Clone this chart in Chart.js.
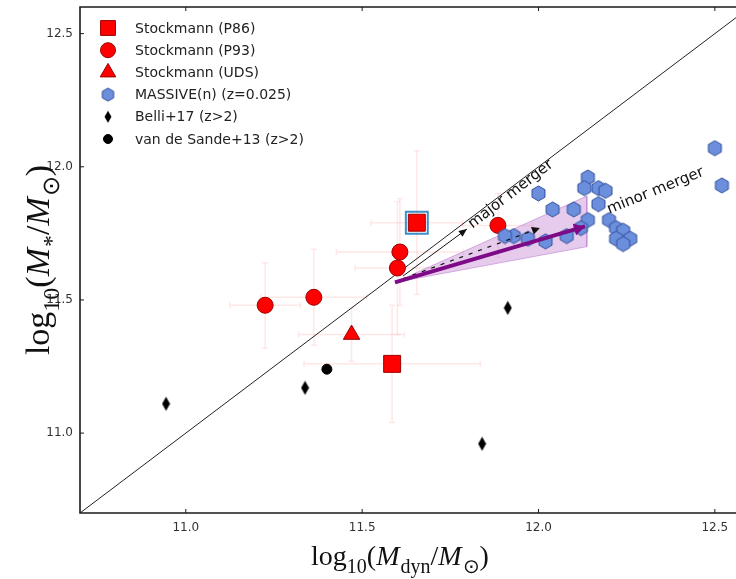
<!DOCTYPE html>
<html>
<head>
<meta charset="utf-8">
<script src="https://cdn.jsdelivr.net/npm/chart.js@4.4.1/dist/chart.umd.min.js"></script>
<style>
  html, body { margin: 0; padding: 0; background: #fff; }
  #wrap { width: 736px; height: 579px; position: relative; }
</style>
</head>
<body>
<div id="wrap"><canvas id="massChart" width="736" height="579"></canvas></div>
<script>
'use strict';

// ============================================================
// DATA  (all values are log10 masses in solar units)
// ============================================================
const dynLimits  = [10.7, 12.56];
const starLimits = [10.7, 12.6];
const tickValues = [11.0, 11.5, 12.0, 12.5];

const oneToOneDyn  = [10.7, 12.6];
const oneToOneStar = [10.7, 12.6];

const p86Dyn      = [11.585, 11.655];
const p86Star     = [11.26, 11.79];
const p86DynErr   = [0.25, 0.13];
const p86StarErr  = [0.22, 0.27];
const flaggedDyn  = [11.655];
const flaggedStar = [11.79];

const p93Dyn     = [11.225, 11.363, 11.60, 11.607, 11.885];
const p93Star    = [11.48, 11.51, 11.62, 11.68, 11.78];
const p93DynErr  = [0.10, 0.15, 0.12, 0.18, 0.10];
const p93StarErr = [0.16, 0.18, 0.25, 0.20, 0.12];

const udsDyn     = [11.47];
const udsStar    = [11.37];
const udsDynErr  = [0.15];
const udsStarErr = [0.10];

const massiveDyn  = [12.50, 12.52, 12.14, 12.13, 12.17, 12.19, 12.00, 12.17, 12.10, 12.04,
                     12.14, 12.20, 12.22, 12.24, 12.22, 12.26, 12.24, 12.12, 12.08, 12.02,
                     11.97, 11.93, 11.905];
const massiveStar = [12.07, 11.93, 11.96, 11.92, 11.92, 11.91, 11.90, 11.86, 11.84, 11.84,
                     11.80, 11.80, 11.77, 11.76, 11.73, 11.73, 11.71, 11.77, 11.74, 11.72,
                     11.73, 11.74, 11.74];

const belliDyn  = [10.944, 11.338, 11.84, 11.913];
const belliStar = [11.11, 11.17, 10.96, 11.47];

const vdsDyn  = [11.40];
const vdsStar = [11.24];

// growth tracks
const wedgeDyn   = [11.593, 12.137, 12.137, 11.593];
const wedgeStar  = [11.566, 11.89, 11.70, 11.566];
const trackDyn   = [11.593, 12.132];
const trackStar  = [11.566, 11.776];
const minorDyn   = [11.616, 12.004];
const minorStar  = [11.58, 11.77];
const majorDyn   = [11.616, 11.797];
const majorStar  = [11.59, 11.766];

const pts = (xs, ys) => xs.map((x, i) => ({ x, y: ys[i] }));

// ============================================================
// CUSTOM MARKERS (hexagon, thin diamond)
// ============================================================
function hexMarker(size, fill, edge) {
  const c = document.createElement('canvas');
  c.width = size; c.height = size;
  const g = c.getContext('2d');
  const r = size / 2 - 1, cx = size / 2, cy = size / 2;
  g.beginPath();
  for (let k = 0; k < 6; k++) {
    const a = -Math.PI / 2 + k * Math.PI / 3;
    g[k ? 'lineTo' : 'moveTo'](cx + r * Math.cos(a), cy + r * Math.sin(a));
  }
  g.closePath();
  g.fillStyle = fill; g.fill();
  g.lineWidth = 1; g.strokeStyle = edge; g.stroke();
  return c;
}

function diamondMarker(w, h) {
  const c = document.createElement('canvas');
  c.width = w; c.height = h;
  const g = c.getContext('2d');
  g.beginPath();
  g.moveTo(w / 2, 0.5); g.lineTo(w - 0.5, h / 2); g.lineTo(w / 2, h - 0.5); g.lineTo(0.5, h / 2);
  g.closePath();
  g.fillStyle = '#000'; g.fill();
  return c;
}

const hexBig   = hexMarker(17, '#6b8fdc', '#34509c');
const hexSmall = hexMarker(15, '#6b8fdc', '#34509c');
const diaBig   = diamondMarker(9, 15);
const diaSmall = diamondMarker(8, 13);

// ============================================================
// PLUGINS
// ============================================================
const errorBarPlugin = {
  id: 'errorBars',
  beforeDatasetsDraw(chart) {
    const { ctx, scales: { x, y } } = chart;
    ctx.save();
    ctx.strokeStyle = 'rgba(255,40,40,0.11)';
    ctx.lineWidth = 1.5;
    chart.data.datasets.forEach(ds => {
      if (!ds.errorBars) return;
      ds.data.forEach((p, i) => {
        const ex = ds.errorBars.x[i], ey = ds.errorBars.y[i];
        const px = x.getPixelForValue(p.x), py = y.getPixelForValue(p.y);
        const x0 = x.getPixelForValue(p.x - ex), x1 = x.getPixelForValue(p.x + ex);
        const y0 = y.getPixelForValue(p.y - ey), y1 = y.getPixelForValue(p.y + ey);
        ctx.beginPath();
        ctx.moveTo(x0, py); ctx.lineTo(x1, py);
        ctx.moveTo(px, y0); ctx.lineTo(px, y1);
        ctx.moveTo(x0, py - 3); ctx.lineTo(x0, py + 3);
        ctx.moveTo(x1, py - 3); ctx.lineTo(x1, py + 3);
        ctx.moveTo(px - 3, y0); ctx.lineTo(px + 3, y0);
        ctx.moveTo(px - 3, y1); ctx.lineTo(px + 3, y1);
        ctx.stroke();
      });
    });
    ctx.restore();
  }
};

const arrowPlugin = {
  id: 'arrowHeads',
  afterDatasetsDraw(chart) {
    const { ctx } = chart;
    chart.data.datasets.forEach((ds, i) => {
      if (!ds.arrow) return;
      const pe = chart.getDatasetMeta(i).data;
      const a = pe[pe.length - 2], b = pe[pe.length - 1];
      const ang = Math.atan2(b.y - a.y, b.x - a.x);
      const { len, half, color } = ds.arrow;
      ctx.save();
      ctx.translate(b.x, b.y);
      ctx.rotate(ang);
      ctx.beginPath();
      ctx.moveTo(0, 0); ctx.lineTo(-len, -half); ctx.lineTo(-len, half);
      ctx.closePath();
      ctx.fillStyle = color; ctx.fill();
      ctx.restore();
    });
  }
};

const framePlugin = {
  id: 'frame',
  afterDatasetsDraw(chart) {
    const { ctx, chartArea: a, scales: { x, y } } = chart;
    ctx.save();
    ctx.strokeStyle = '#1a1a1a';
    ctx.lineWidth = 1.6;
    ctx.beginPath();
    ctx.moveTo(a.right + 2, a.top); ctx.lineTo(a.left, a.top);
    ctx.lineTo(a.left, a.bottom); ctx.lineTo(a.right + 2, a.bottom);
    ctx.stroke();
    ctx.lineWidth = 1;
    ctx.beginPath();
    tickValues.forEach(v => {
      const px = x.getPixelForValue(v), py = y.getPixelForValue(v);
      ctx.moveTo(px, a.bottom); ctx.lineTo(px, a.bottom - 4);
      ctx.moveTo(px, a.top); ctx.lineTo(px, a.top + 4);
      ctx.moveTo(a.left, py); ctx.lineTo(a.left + 4, py);
    });
    ctx.stroke();
    ctx.restore();
  }
};

// rotated "major merger" / "minor merger" captions
const captionPlugin = {
  id: 'captions',
  afterDatasetsDraw(chart) {
    const { ctx, scales: { x, y } } = chart;
    const notes = [
      { text: 'major merger', at: [11.928, 11.885], deg: -37.6 },
      { text: 'minor merger', at: [12.336, 11.896], deg: -22 }
    ];
    ctx.save();
    ctx.font = '15px "DejaVu Sans"';
    ctx.fillStyle = '#111';
    ctx.textAlign = 'center';
    ctx.textBaseline = 'alphabetic';
    notes.forEach(n => {
      ctx.save();
      ctx.translate(x.getPixelForValue(n.at[0]), y.getPixelForValue(n.at[1]));
      ctx.rotate(n.deg * Math.PI / 180);
      ctx.fillText(n.text, 0, 0);
      ctx.restore();
    });
    ctx.restore();
  }
};

// axis titles with sub-scripts
function drawMath(ctx, parts, size) {
  const fontOf = kind => {
    if (kind === 'it') return `italic ${size}px "Liberation Serif"`;
    if (kind === 'sub') return `${Math.round(size * 0.7)}px "Liberation Serif"`;
    return `${size}px "Liberation Serif"`;
  };
  let total = 0;
  const widths = parts.map(([t, k]) => { ctx.font = fontOf(k); const w = ctx.measureText(t).width + (k === 'it' ? 1 : 0); total += w; return w; });
  let cx = -total / 2;
  parts.forEach(([t, k], i) => {
    ctx.font = fontOf(k);
    ctx.fillText(t, cx, k === 'sub' ? size * 0.28 : 0);
    cx += widths[i];
  });
}

const titlePlugin = {
  id: 'axisTitles',
  afterDraw(chart) {
    const { ctx, chartArea: a } = chart;
    ctx.save();
    ctx.fillStyle = '#111';
    ctx.textBaseline = 'alphabetic';
    ctx.textAlign = 'left';
    ctx.translate(400, 565);
    drawMath(ctx, [['log', 'rm'], ['10', 'sub'], ['(', 'rm'], ['M', 'it'], ['dyn', 'sub'], ['/', 'rm'], ['M', 'it'], ['\u2299', 'sub'], [')', 'rm']], 28);
    ctx.restore();
    ctx.save();
    ctx.fillStyle = '#111';
    ctx.textBaseline = 'alphabetic';
    ctx.textAlign = 'left';
    ctx.translate(49, (a.top + a.bottom) / 2);
    ctx.rotate(-Math.PI / 2);
    drawMath(ctx, [['log', 'rm'], ['10', 'sub'], ['(', 'rm'], ['M', 'it'], ['*', 'sub'], ['/', 'rm'], ['M', 'it'], ['\u2299', 'sub'], [')', 'rm']], 34);
    ctx.restore();
  }
};

const legendPlugin = {
  id: 'insideLegend',
  afterDraw(chart) {
    const { ctx } = chart;
    const entries = [
      { label: 'Stockmann (P86)', style: 'rect', r: 10.5, fill: '#ff0000', edge: '#9b0000' },
      { label: 'Stockmann (P93)', style: 'circle', r: 7.5, fill: '#ff0000', edge: '#9b0000' },
      { label: 'Stockmann (UDS)', style: 'triangle', r: 9, fill: '#ff0000', edge: '#9b0000' },
      { label: 'MASSIVE(n) (z=0.025)', style: hexSmall, r: 7 },
      { label: 'Belli+17 (z>2)', style: diaSmall, r: 6 },
      { label: 'van de Sande+13 (z>2)', style: 'circle', r: 4.5, fill: '#000', edge: '#000' }
    ];
    ctx.save();
    entries.forEach((e, i) => {
      const yy = 28 + i * 22.2;
      ctx.fillStyle = e.fill || '#000';
      ctx.strokeStyle = e.edge || '#000';
      ctx.lineWidth = 1;
      Chart.helpers.drawPoint(ctx, { pointStyle: e.style, radius: e.r, rotation: 0, borderWidth: 1 }, 108, yy);
      ctx.font = '14px "DejaVu Sans"';
      ctx.fillStyle = '#222';
      ctx.textBaseline = 'middle';
      ctx.fillText(e.label, 135, yy + 1);
    });
    ctx.restore();
  }
};

// ============================================================
// CHART
// ============================================================
const tickFont = { family: 'DejaVu Sans', size: 12 };
const noEdgePadding = s => { s.paddingLeft = 0; s.paddingRight = 0; s.paddingTop = 0; s.paddingBottom = 0; };

new Chart(document.getElementById('massChart'), {
  type: 'scatter',
  data: {
    datasets: [
      { label: '1:1', type: 'line', data: pts(oneToOneDyn, oneToOneStar), showLine: true,
        borderColor: '#222', borderWidth: 1, pointRadius: 0, order: 20 },
      { label: 'spread', type: 'line', data: pts(wedgeDyn, wedgeStar), showLine: true, fill: 'shape',
        backgroundColor: 'rgba(196,132,210,0.42)', borderColor: 'rgba(186,120,205,0.55)', borderWidth: 1,
        pointRadius: 0, tension: 0, order: 19 },
      { label: 'P86', data: pts(p86Dyn, p86Star), pointStyle: 'rect', pointRadius: 12,
        backgroundColor: '#ff0000', borderColor: '#9b0000', borderWidth: 1,
        errorBars: { x: p86DynErr, y: p86StarErr }, order: 10 },
      { label: 'UDS', data: pts(udsDyn, udsStar), pointStyle: 'triangle', pointRadius: 9.5,
        backgroundColor: '#ff0000', borderColor: '#9b0000', borderWidth: 1,
        errorBars: { x: udsDynErr, y: udsStarErr }, order: 10 },
      { label: 'P93', data: pts(p93Dyn, p93Star), pointStyle: 'circle', pointRadius: 8,
        backgroundColor: '#ff0000', borderColor: '#9b0000', borderWidth: 1,
        errorBars: { x: p93DynErr, y: p93StarErr }, order: 9 },
      { label: 'MASSIVE', data: pts(massiveDyn, massiveStar), pointStyle: hexBig, pointRadius: 8, order: 8 },
      { label: 'minor', type: 'line', data: pts(minorDyn, minorStar), showLine: true,
        borderColor: '#111', borderWidth: 1.2, borderDash: [4, 6], pointRadius: 0, order: 7,
        arrow: { len: 8, half: 4, color: '#111' } },
      { label: 'major', type: 'line', data: pts(majorDyn, majorStar), showLine: true,
        borderColor: '#111', borderWidth: 1, pointRadius: 0, order: 7,
        arrow: { len: 8, half: 3.5, color: '#111' } },
      { label: 'track', type: 'line', data: pts(trackDyn, trackStar), showLine: true,
        borderColor: '#7d0a86', borderWidth: 4, pointRadius: 0, order: 6,
        arrow: { len: 11, half: 6, color: '#7d0a86' } },
      { label: 'Belli', data: pts(belliDyn, belliStar), pointStyle: diaBig, pointRadius: 7, order: 5 },
      { label: 'vdS', data: pts(vdsDyn, vdsStar), pointStyle: 'circle', pointRadius: 5,
        backgroundColor: '#000', borderColor: '#000', order: 5 },
      { label: 'flagged', data: pts(flaggedDyn, flaggedStar), pointStyle: 'rect', pointRadius: 15.5,
        backgroundColor: 'rgba(0,0,0,0)', borderColor: '#3e8fc7', borderWidth: 2, order: 4 }
    ]
  },
  options: {
    responsive: false,
    animation: false,
    events: [],
    layout: { autoPadding: false, padding: { top: 7, right: 0, left: 0, bottom: 0 } },
    plugins: { legend: { display: false }, tooltip: { enabled: false } },
    scales: {
      x: {
        type: 'linear', min: dynLimits[0], max: dynLimits[1],
        afterBuildTicks: s => { s.ticks = tickValues.map(v => ({ value: v })); },
        afterFit: s => { s.height = 66; noEdgePadding(s); },
        grid: { display: false, drawTicks: false },
        border: { display: false },
        ticks: { padding: 8, color: '#333', font: tickFont, maxRotation: 0, callback: v => v.toFixed(1) }
      },
      y: {
        type: 'linear', min: starLimits[0], max: starLimits[1],
        afterBuildTicks: s => { s.ticks = tickValues.map(v => ({ value: v })); },
        afterFit: s => { s.width = 80; noEdgePadding(s); },
        grid: { display: false, drawTicks: false },
        border: { display: false },
        ticks: { padding: 7, color: '#333', font: tickFont, callback: v => v.toFixed(1) }
      }
    }
  },
  plugins: [errorBarPlugin, arrowPlugin, framePlugin, captionPlugin, titlePlugin, legendPlugin]
});
</script>
</body>
</html>
